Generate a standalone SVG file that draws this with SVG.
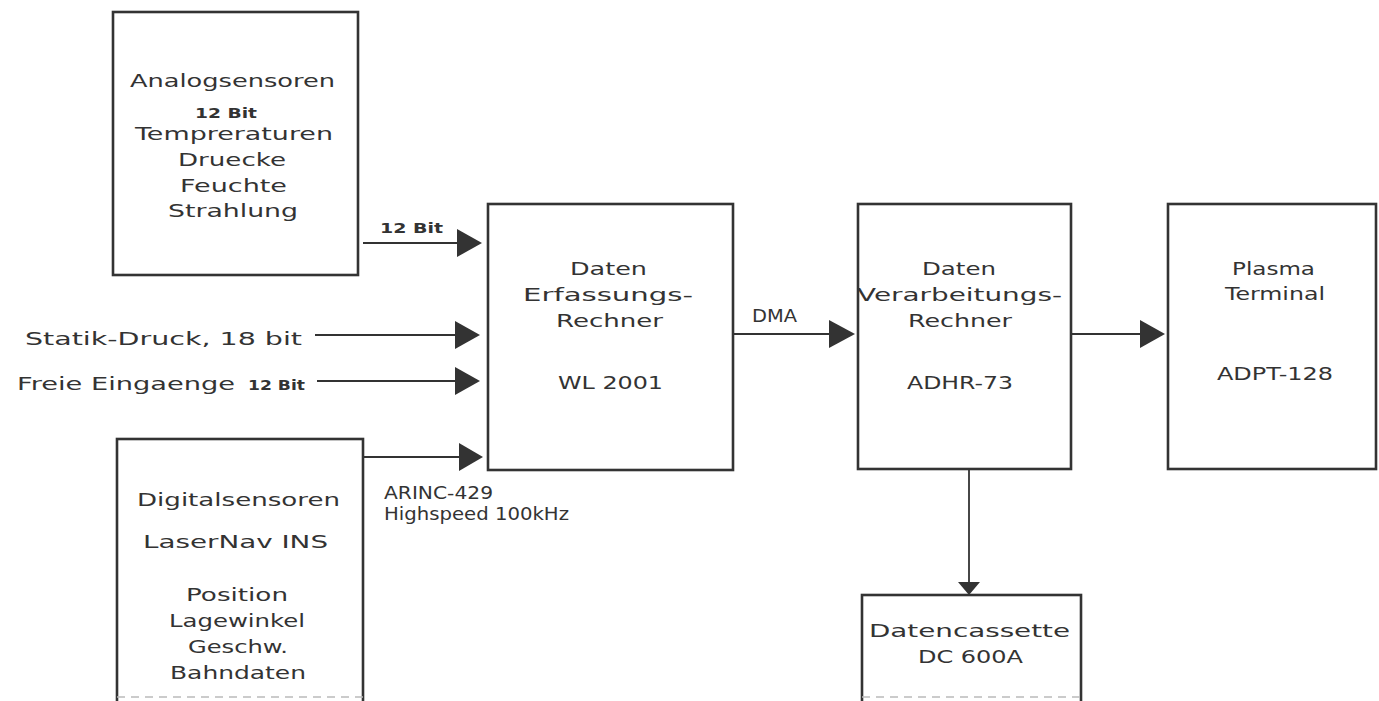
<svg xmlns="http://www.w3.org/2000/svg" width="1379" height="701" viewBox="0 0 1379 701">
<style>
  .box { fill: #ffffff; stroke: #333333; stroke-width: 2.6; }
  .open { fill: none; stroke: #bbbbbb; stroke-width: 1.5; stroke-dasharray: 8 6; }
  .t { font-family: "DejaVu Sans", "Liberation Sans", sans-serif; font-size: 18.5px; fill: #333333; }
  .a { font-family: "DejaVu Sans", "Liberation Sans", sans-serif; font-size: 17px; fill: #333333; }
  .s { font-family: "DejaVu Sans", "Liberation Sans", sans-serif; font-size: 14px; font-weight: bold; fill: #333333; }
  .c { fill: none; stroke: #333333; stroke-width: 1.8; }
  .ah { fill: #333333; }
</style>
<rect width="1379" height="701" fill="#ffffff"/>

<g id="analogsensoren">
  <rect class="box" x="113" y="12" width="245" height="263"/>
  <text class="t" x="130" y="87" textLength="205" lengthAdjust="spacingAndGlyphs">Analogsensoren</text>
  <text class="s" x="195" y="118" textLength="62" lengthAdjust="spacingAndGlyphs">12 Bit</text>
  <text class="t" x="135" y="140" textLength="198" lengthAdjust="spacingAndGlyphs">Tempreraturen</text>
  <text class="t" x="178" y="166" textLength="108" lengthAdjust="spacingAndGlyphs">Druecke</text>
  <text class="t" x="180" y="192" textLength="107" lengthAdjust="spacingAndGlyphs">Feuchte</text>
  <text class="t" x="168" y="217" textLength="130" lengthAdjust="spacingAndGlyphs">Strahlung</text>
</g>

<g id="digitalsensoren">
  <rect class="box" x="117" y="439" width="246" height="270"/>
  <line class="open" x1="117" y1="697" x2="363" y2="697"/>
  <text class="t" x="137" y="506" textLength="203" lengthAdjust="spacingAndGlyphs">Digitalsensoren</text>
  <text class="t" x="143" y="548" textLength="185" lengthAdjust="spacingAndGlyphs">LaserNav INS</text>
  <text class="t" x="186" y="601" textLength="102" lengthAdjust="spacingAndGlyphs">Position</text>
  <text class="t" x="169" y="627" textLength="136" lengthAdjust="spacingAndGlyphs">Lagewinkel</text>
  <text class="t" x="188" y="653" textLength="100" lengthAdjust="spacingAndGlyphs">Geschw.</text>
  <text class="t" x="170" y="679" textLength="136" lengthAdjust="spacingAndGlyphs">Bahndaten</text>
</g>

<g id="erfassungsrechner">
  <rect class="box" x="488" y="204" width="245" height="266"/>
  <text class="t" x="570" y="275" textLength="77" lengthAdjust="spacingAndGlyphs">Daten</text>
  <text class="t" x="523" y="301" textLength="170" lengthAdjust="spacingAndGlyphs">Erfassungs-</text>
  <text class="t" x="556" y="327" textLength="107" lengthAdjust="spacingAndGlyphs">Rechner</text>
  <text class="t" x="558" y="389" textLength="105" lengthAdjust="spacingAndGlyphs">WL 2001</text>
</g>

<g id="verarbeitungsrechner">
  <rect class="box" x="858" y="204" width="213" height="265"/>
  <text class="t" x="922" y="275" textLength="74" lengthAdjust="spacingAndGlyphs">Daten</text>
  <text class="t" x="857" y="301" textLength="205" lengthAdjust="spacingAndGlyphs">Verarbeitungs-</text>
  <text class="t" x="908" y="327" textLength="104" lengthAdjust="spacingAndGlyphs">Rechner</text>
  <text class="t" x="907" y="389" textLength="106" lengthAdjust="spacingAndGlyphs">ADHR-73</text>
</g>

<g id="plasmaterminal">
  <rect class="box" x="1168" y="204" width="208" height="265"/>
  <text class="t" x="1232" y="275" textLength="83" lengthAdjust="spacingAndGlyphs">Plasma</text>
  <text class="t" x="1225" y="300" textLength="100" lengthAdjust="spacingAndGlyphs">Terminal</text>
  <text class="t" x="1217" y="380" textLength="116" lengthAdjust="spacingAndGlyphs">ADPT-128</text>
</g>

<g id="datencassette">
  <rect class="box" x="862" y="595" width="219" height="120"/>
  <line class="open" x1="862" y1="697" x2="1081" y2="697"/>
  <text class="t" x="869" y="637" textLength="201" lengthAdjust="spacingAndGlyphs">Datencassette</text>
  <text class="t" x="918" y="663" textLength="105" lengthAdjust="spacingAndGlyphs">DC 600A</text>
</g>

<g id="connectors">
  <line class="c" x1="363" y1="243" x2="458" y2="243"/>
  <polygon class="ah" points="457,229 482,243 457,257"/>
  <text class="s" x="380" y="233" textLength="63" lengthAdjust="spacingAndGlyphs">12 Bit</text>

  <text class="t" x="25" y="345" textLength="277" lengthAdjust="spacingAndGlyphs">Statik-Druck, 18 bit</text>
  <line class="c" x1="315" y1="335" x2="456" y2="335"/>
  <polygon class="ah" points="455,321 480,335 455,349"/>

  <text class="t" x="17" y="390" textLength="218" lengthAdjust="spacingAndGlyphs">Freie Eingaenge</text>
  <text class="s" x="248" y="390" textLength="57" lengthAdjust="spacingAndGlyphs">12 Bit</text>
  <line class="c" x1="317" y1="381" x2="456" y2="381"/>
  <polygon class="ah" points="455,367 480,381 455,395"/>

  <line class="c" x1="363" y1="457" x2="460" y2="457"/>
  <polygon class="ah" points="459,443 483,457 459,471"/>
  <text class="a" x="384" y="499" textLength="109" lengthAdjust="spacingAndGlyphs">ARINC-429</text>
  <text class="a" x="384" y="520" textLength="185" lengthAdjust="spacingAndGlyphs">Highspeed 100kHz</text>

  <line class="c" x1="733" y1="334" x2="830" y2="334"/>
  <polygon class="ah" points="829,320 855,334 829,348"/>
  <text class="t" x="752" y="322" textLength="45" lengthAdjust="spacingAndGlyphs">DMA</text>

  <line class="c" x1="1071" y1="334" x2="1141" y2="334"/>
  <polygon class="ah" points="1140,320 1165,334 1140,348"/>

  <line class="c" x1="969" y1="469" x2="969" y2="583"/>
  <polygon class="ah" points="958,582 980,582 969,595"/>
</g>
</svg>
